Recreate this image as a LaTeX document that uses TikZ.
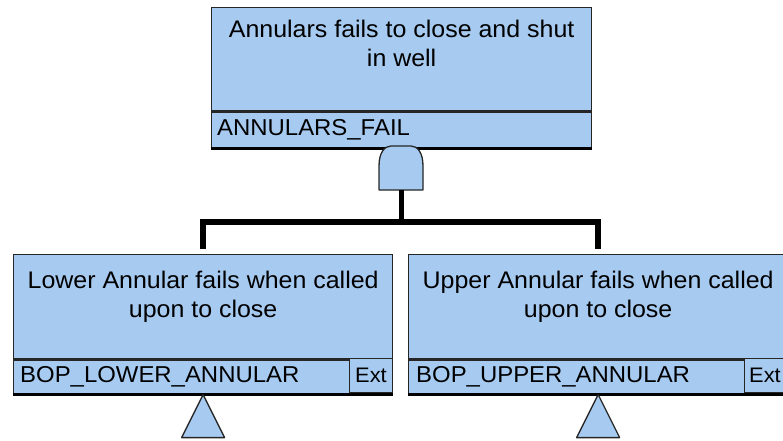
\documentclass[tikz,border=0pt]{standalone}
\usepackage{fontspec}
\setmainfont{Liberation Sans}[FakeStretch=1.04]
\usetikzlibrary{positioning,calc}
\definecolor{ftFill}{RGB}{166,202,240}
\definecolor{ftEdge}{RGB}{38,38,38}
\tikzset{
    ftBoxBase/.style={
        rectangle,
        draw=ftEdge,
        fill=ftFill,
        line width=1.3pt,
        inner sep=0pt,
        anchor=north west
    },
    % event box: description part and tag row
    ftDesc/.style={ftBoxBase, minimum width=379pt, minimum height=104pt},
    ftTag/.style={ftBoxBase, minimum width=379pt, minimum height=34pt},
    ftExt/.style={ftBoxBase, minimum width=43pt, minimum height=34pt},
    ftText/.style={font=\fontsize{24}{28.5}\selectfont, align=center, inner sep=0pt},
    ftIdText/.style={font=\fontsize{23}{28}\selectfont, inner sep=0pt},
    ftExtText/.style={font=\fontsize{21}{26}\selectfont, inner sep=0pt},
    % gates and connectors
    ftGate/.style={draw=ftEdge, fill=ftFill, line width=1.3pt, line join=round},
    ftBottom/.style={draw=black, line width=3pt},
    ftLink/.style={draw=black, line width=5pt},
    ftBus/.style={draw=black, line width=6.5pt, line join=miter}
}

\begin{document}
\begin{tikzpicture}[x=1pt, y=-1pt]
\clip (0,0) rectangle (783,440);

% --- Top event ---
\node[ftDesc, minimum width=380pt, minimum height=103pt] (topEvt) at (211,7) {};
\node[ftTag, minimum width=380pt, minimum height=36pt] (topTag) at (topEvt.south west) {};
\node[ftText, below=13pt of topEvt.north] (topText) {Annulars fails to close and shut\\in well};
\node[ftIdText, right=6pt of topTag.west] (topId) {ANNULARS\_FAIL};
\draw[ftBottom] (topTag.south west) -- (topTag.south east);

% AND gate under the top event
\draw[ftGate] (379,190) -- (379,166) .. controls (379,152) and (385,146) .. (391,146)
    -- (411,146) .. controls (417,146) and (423,152) .. (423,166) -- (423,190) -- cycle;
\coordinate (andOut) at (401,190);
\coordinate (bus) at (401,222);

% --- Basic events ---
\node[ftDesc] (lowEvt) at (13,254) {};
\node[ftTag] (lowTag) at (lowEvt.south west) {};
\node[ftExt] (lowExt) at (349,358) {};
\node[ftText, below=17pt of lowEvt.north] (lowText) {Lower Annular fails when called\\upon to close};
\node[ftIdText, right=7pt of lowTag.west] (lowId) {BOP\_LOWER\_ANNULAR};
\node[ftExtText, right=6pt of lowExt.west] (lowExtText) {Ext};
\draw[ftBottom] (lowTag.south west) -- (lowTag.south east);

\node[ftDesc] (upEvt) at (408,254) {};
\node[ftTag] (upTag) at (upEvt.south west) {};
\node[ftExt] (upExt) at (744,358) {};
\node[ftText, below=17pt of upEvt.north] (upText) {Upper Annular fails when called\\upon to close};
\node[ftIdText, right=8pt of upTag.west] (upId) {BOP\_UPPER\_ANNULAR};
\node[ftExtText, right=5pt of upExt.west] (upExtText) {Ext};
\draw[ftBottom] (upTag.south west) -- (upTag.south east);

% connectors from the gate to both inputs
\draw[ftLink] (andOut) -- (bus);
\draw[ftBus] ([yshift=5pt]lowEvt.north) |- (bus) -| ([yshift=5pt]upEvt.north);

% transfer triangles
\draw[ftGate] (lowTag.south) -- ++(21.5,43) -- ++(-43,0) -- cycle;
\draw[ftGate] (upTag.south) -- ++(21.5,43) -- ++(-43,0) -- cycle;

\end{tikzpicture}
\end{document}
